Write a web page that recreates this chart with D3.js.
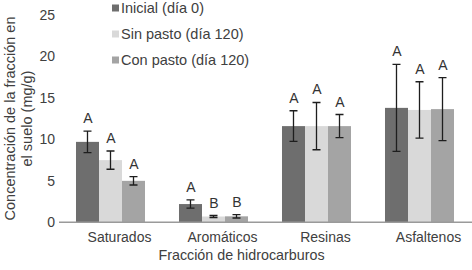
<!DOCTYPE html>
<html><head><meta charset="utf-8">
<script src="https://cdn.jsdelivr.net/npm/d3@7/dist/d3.min.js"></script>
<style>
html,body{margin:0;padding:0;background:#fff;}
svg{display:block;font-family:"Liberation Sans",Arial,sans-serif;}
</style></head>
<body>
<svg id="chart" width="472" height="270"></svg>
<script>
const categories = ["Saturados", "Aromáticos", "Resinas", "Asfaltenos"];
const seriesNames = ["Inicial (día 0)", "Sin pasto (día 120)", "Con pasto (día 120)"];
const inicial   = [9.7, 2.2, 11.6, 13.8];
const sinPasto  = [7.5, 0.7, 11.6, 13.55];
const conPasto  = [5.0, 0.72, 11.6, 13.65];
const errInicial  = [1.3, 0.5, 1.85, 5.25];
const errSinPasto = [1.1, 0.12, 2.85, 3.4];
const errConPasto = [0.5, 0.2, 1.4, 3.8];
const lettersInicial  = ["A", "A", "A", "A"];
const lettersSinPasto = ["A", "B", "A", "A"];
const lettersConPasto = ["A", "B", "A", "A"];
const yTicks = [0, 5, 10, 15, 20, 25];
const colors = ["#6e6e6e", "#d9d9d9", "#a4a4a4"];

const values = [inicial, sinPasto, conPasto];
const errors = [errInicial, errSinPasto, errConPasto];
const letters = [lettersInicial, lettersSinPasto, lettersConPasto];

const svg = d3.select("#chart");
const x0 = d3.scaleBand().domain(categories).range([59, 471]).paddingInner(0.33).paddingOuter(0.165);
const x1 = d3.scaleBand().domain(d3.range(seriesNames.length)).range([0, x0.bandwidth()]).padding(0);
const y = d3.scaleLinear().domain([0, 25]).range([222.3, 15]);

// y tick labels
const yAxis = d3.axisLeft(y).tickValues(yTicks).tickSize(0).tickPadding(0);
const gy = svg.append("g").attr("transform", "translate(55,0)").call(yAxis);
gy.select(".domain").remove();
gy.selectAll("text").attr("font-size", 14).attr("fill", "#404040").attr("font-family", "Liberation Sans, Arial, sans-serif");

// bars
const data = [];
categories.forEach((c, i) => {
  values.forEach((s, j) => {
    data.push({cat: c, s: j, v: s[i], e: errors[j][i], l: letters[j][i]});
  });
});
const g = svg.append("g");
g.selectAll("rect.bar").data(data).join("rect")
  .attr("class", "bar")
  .attr("x", d => x0(d.cat) + x1(d.s))
  .attr("width", x1.bandwidth())
  .attr("y", d => y(d.v))
  .attr("height", d => y(0) - y(d.v))
  .attr("fill", d => colors[d.s]);

// x axis
const xAxis = d3.axisBottom(x0).tickSize(0).tickPadding(0);
const gx = svg.append("g").attr("transform", `translate(0,${y(0)})`).call(xAxis);
gx.select(".domain").attr("stroke", "#9a9a9a").attr("stroke-width", 1.6).attr("d", "M59,0H472");
gx.selectAll("text").attr("font-size", 14).attr("fill", "#404040").attr("dy", null).attr("y", 19.3).attr("x", 9)
  .attr("font-family", "Liberation Sans, Arial, sans-serif");

// error bars
const eb = svg.append("g").attr("stroke", "#1e1e1e").attr("stroke-width", 1.3).attr("fill", "none");
const cx = d => x0(d.cat) + x1(d.s) + x1.bandwidth() / 2;
eb.selectAll("path").data(data).join("path")
  .attr("d", d => {
    const X = cx(d), t = y(d.v + d.e), b = y(d.v - d.e), w = 4;
    return `M${X},${t}V${b}M${X - w},${t}H${X + w}M${X - w},${b}H${X + w}`;
  });

// letters
svg.append("g").selectAll("text").data(data).join("text")
  .attr("x", d => cx(d) + 0.5)
  .attr("y", d => y(d.v + d.e) - 8)
  .attr("text-anchor", "middle")
  .attr("font-size", 14)
  .attr("fill", "#333")
  .text(d => d.l);

// legend
const leg = svg.append("g");
seriesNames.forEach((n, i) => {
  const cy = 8 + i * 26;
  leg.append("rect").attr("x", 112).attr("y", cy - 3.5).attr("width", 7).attr("height", 7).attr("fill", colors[i]);
  leg.append("text").attr("x", 121).attr("y", cy).attr("dy", "0.36em")
    .attr("font-size", 14.5).attr("fill", "#404040").text(n);
});

// axis titles
svg.append("text").attr("x", 241.5).attr("y", 260).attr("text-anchor", "middle")
  .attr("font-size", 14.3).attr("fill", "#404040").text("Fracción de hidrocarburos");
const yt = svg.append("text").attr("transform", "translate(0,118.5) rotate(-90)")
  .attr("text-anchor", "middle").attr("font-size", 14.5).attr("fill", "#404040");
yt.append("tspan").attr("x", 0).attr("y", 14.5).text("Concentración de la fracción en");
yt.append("tspan").attr("x", 0).attr("y", 31.5).text("el suelo (mg/g)");
</script>
</body></html>
